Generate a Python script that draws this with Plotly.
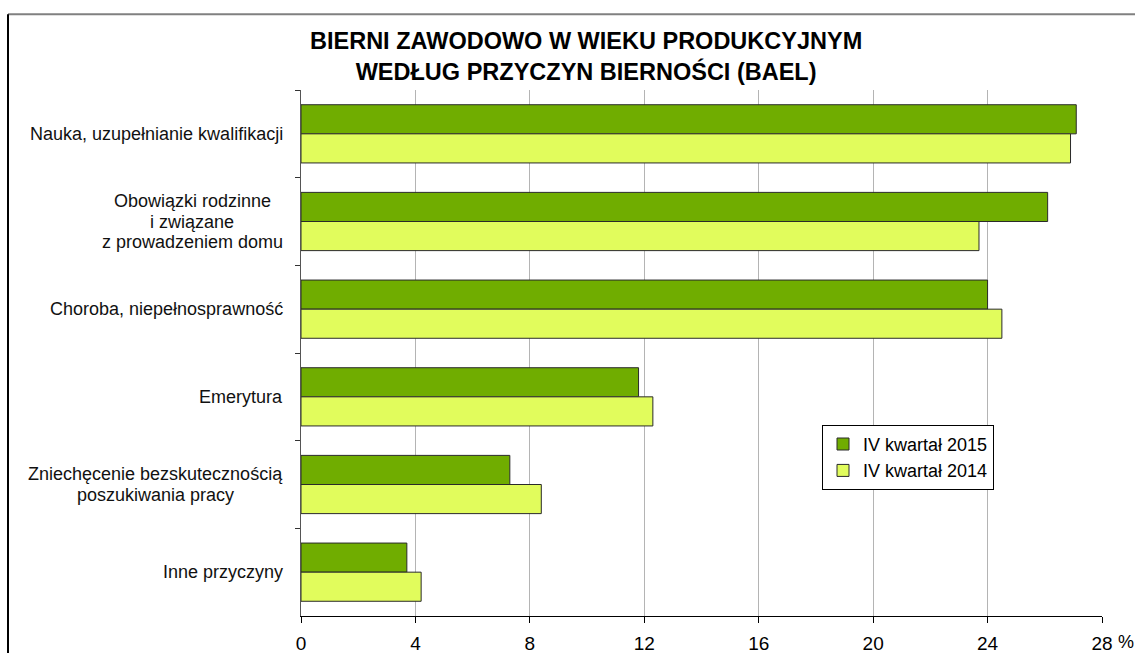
import plotly.graph_objects as go

categories = [
    "Nauka, uzupełnianie kwalifikacji",
    "Obowiązki rodzinne<br>i związane<br>z prowadzeniem domu",
    "Choroba, niepełnosprawność",
    "Emerytura",
    "Zniechęcenie bezskutecznością<br>poszukiwania pracy",
    "Inne przyczyny",
]
cat_keys = ["Nauka", "Obowiazki", "Choroba", "Emerytura", "Zniechecenie", "Inne"]
values_2015 = [27.1, 26.1, 24.0, 11.8, 7.3, 3.7]
values_2014 = [26.9, 23.7, 24.5, 12.3, 8.4, 4.2]
series_names = ["IV kwartał 2015", "IV kwartał 2014"]
x_ticks = [0, 4, 8, 12, 16, 20, 24, 28]

FONT = "Liberation Sans, Arial, sans-serif"

# figure pixel geometry
W, H = 1135, 666
L, R, T, B = 301, 33, 90, 34
PW, PH = W - L - R, H - T - B
LABEL_RIGHT = 285
# approximate pixel width of the widest line of multi-line labels (layout only)
block_width = {"Obowiazki": 186, "Zniechecenie": 259}


def px_x(p):
    return (p - L) / PW


def px_y(p):
    return (H - B - p) / PH


fig = go.Figure()
fig.add_trace(go.Bar(
    y=cat_keys, x=values_2015, orientation="h", name=series_names[0],
    legendgroup="a",
    marker=dict(color="#70AD00", line=dict(color="#2a2a2a", width=1)),
))
fig.add_trace(go.Bar(
    y=cat_keys, x=values_2014, orientation="h", name=series_names[1],
    legendgroup="b",
    marker=dict(color="#E1FC5C", line=dict(color="#2a2a2a", width=1)),
))

annotations = []
LINE_H = 20.5
for key, label in zip(cat_keys, categories):
    lines = label.split("<br>")
    n = len(lines)
    if n == 1:
        xpos, anchor = px_x(LABEL_RIGHT), "right"
    else:
        xpos, anchor = px_x(LABEL_RIGHT - block_width[key] / 2), "center"
    for i, line in enumerate(lines):
        annotations.append(dict(
            x=xpos, xref="paper", y=key, yref="y", text=line, showarrow=False,
            xanchor=anchor, yanchor="middle", align="center",
            yshift=-(i - (n - 1) / 2) * LINE_H,
            font=dict(family=FONT, size=18, color="#111"),
        ))
annotations.append(dict(
    x=px_x(586), xref="paper", y=px_y(55), yref="paper",
    text="<b>BIERNI ZAWODOWO W WIEKU PRODUKCYJNYM<br>WEDŁUG PRZYCZYN BIERNOŚCI (BAEL)</b>",
    showarrow=False, xanchor="center", yanchor="middle", align="center",
    font=dict(family=FONT, size=23.5, color="#000"),
))
annotations.append(dict(
    x=px_x(1116), xref="paper", y=px_y(659), yref="paper", text="%", showarrow=False,
    xanchor="left", yanchor="middle", font=dict(family=FONT, size=18, color="#000"),
))

fig.update_layout(
    width=W, height=H,
    margin=dict(l=L, r=R, t=T, b=B),
    paper_bgcolor="white", plot_bgcolor="white",
    barmode="group", bargap=0.336, bargroupgap=0,
    font=dict(family=FONT, color="#000"),
    showlegend=True,
    legend=dict(
        x=px_x(822), y=px_y(435), xanchor="left", yanchor="top",
        bordercolor="#000", borderwidth=1, bgcolor="white",
        font=dict(family=FONT, size=18, color="#000"),
        itemwidth=30, tracegroupgap=8, traceorder="normal",
    ),
    annotations=annotations,
    shapes=[
        dict(type="line", xref="paper", yref="paper",
             x0=px_x(8), x1=px_x(1140), y0=px_y(12), y1=px_y(12),
             line=dict(color="#808080", width=2), layer="below"),
        dict(type="line", xref="paper", yref="paper",
             x0=px_x(8), x1=px_x(8), y0=px_y(670), y1=px_y(12),
             line=dict(color="#000", width=2), layer="below"),
    ],
)
fig.update_xaxes(
    range=[0, 28], tickvals=x_ticks, ticktext=[str(v) for v in x_ticks],
    showgrid=True, gridcolor="#b4b4b4", gridwidth=1,
    showline=True, linecolor="#000", linewidth=1.2,
    ticks="outside", ticklen=6, tickcolor="#000",
    tickfont=dict(family=FONT, size=19, color="#000"),
    ticklabelstandoff=4,
    zeroline=False, fixedrange=True,
)
fig.update_yaxes(
    autorange="reversed", showticklabels=False,
    showline=True, linecolor="#555", linewidth=1,
    ticks="outside", tickson="boundaries", ticklen=5, tickcolor="#333",
    showgrid=False, zeroline=False, fixedrange=True,
)

fig.write_html(
    "out.html",
    config={"displayModeBar": False},
    post_script="document.body.style.margin='0';document.body.style.overflow='hidden';",
)
